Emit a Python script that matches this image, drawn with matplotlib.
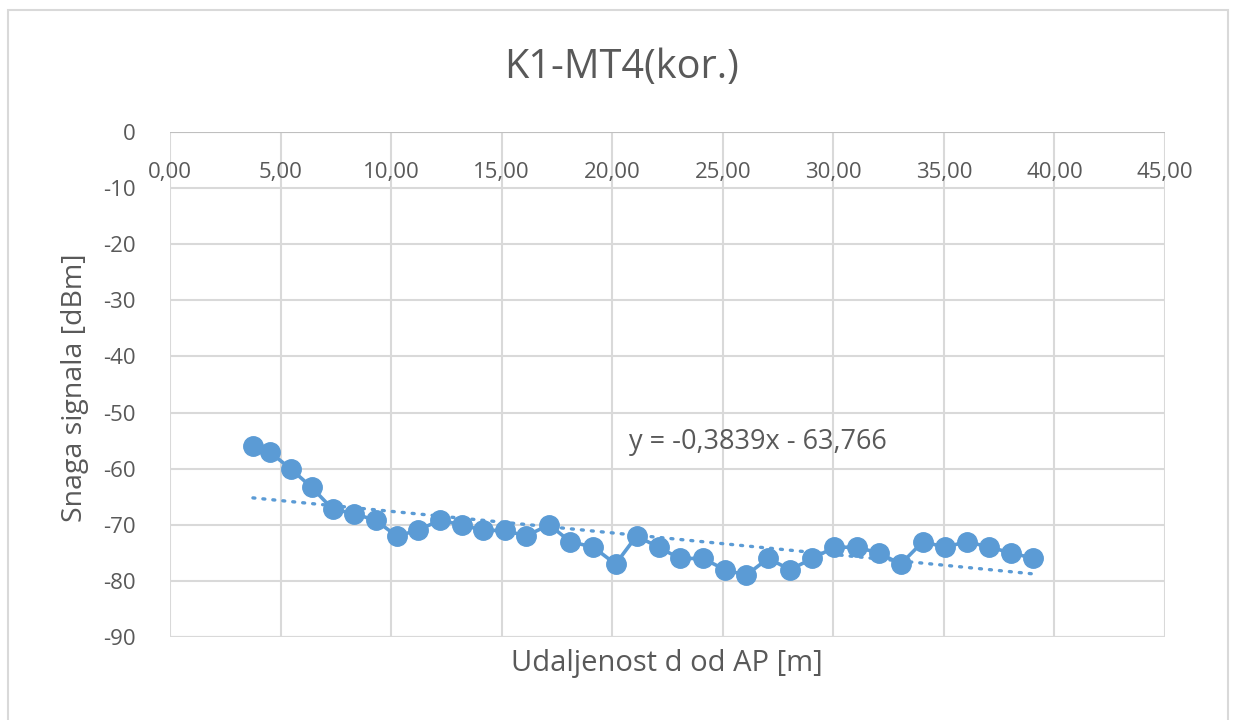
import matplotlib.pyplot as plt
from matplotlib.patches import Rectangle
import numpy as np

# data
dist = [3.75, 4.5, 5.45, 6.4, 7.35, 8.3, 9.3, 10.25, 11.2, 12.2, 13.2, 14.15,
        15.15, 16.1, 17.15, 18.1, 19.15, 20.15, 21.1, 22.1, 23.05, 24.1, 25.1,
        26.05, 27.05, 28.05, 29.05, 30.05, 31.05, 32.05, 33.05, 34.05, 35.05,
        36.05, 37.05, 38.05, 39.05]
signal = [-56, -57, -60, -63.3, -67.2, -68, -69.2, -72, -71, -69.2, -70, -71,
          -71, -72, -70, -73, -74, -77, -72, -74, -76, -76, -78, -79, -76, -78,
          -76, -74, -74, -75, -77, -73, -74, -73, -74, -75, -76]
slope = -0.3839
intercept = -63.766
xticks = [0, 5, 10, 15, 20, 25, 30, 35, 40, 45]
yticks = [0, -10, -20, -30, -40, -50, -60, -70, -80, -90]

blue = '#5B9BD5'
grey_txt = '#595959'
grid_c = '#D9D9D9'

plt.rcParams['font.family'] = ['Open Sans', 'DejaVu Sans']
plt.rcParams['axes.unicode_minus'] = False

W, H = 1235, 720
fig = plt.figure(figsize=(W/100, H/100), dpi=100)
ax = fig.add_axes([170/W, 1-637/H, 995/W, 505/H])

# outer chart frame
fig.patches.append(Rectangle((8/W, -0.01), 1220/W, 1-10/H+0.01,
                             transform=fig.transFigure, fill=False,
                             edgecolor='#D9D9D9', lw=1.5))

ax.plot(dist, signal, color=blue, lw=2.6, marker='o', ms=14, zorder=3)
xt = np.array([dist[0], dist[-1]])
ax.plot(xt, slope*xt + intercept, color=blue, lw=2.4,
        linestyle=(0, (0.6, 2.4)), dash_capstyle='round', zorder=2)

ax.set_xlim(0, 45)
ax.set_ylim(-90, 0)
ax.set_xticks(xticks)
ax.set_yticks(yticks)
ax.set_xticklabels([('%.2f' % v).replace('.', ',') for v in xticks])
ax.set_yticklabels([str(v) for v in yticks])
ax.grid(True, color=grid_c, lw=1.5)
ax.set_axisbelow(True)
for s in ax.spines.values():
    s.set_visible(False)
ax.axhline(0, color='#BFBFBF', lw=1.5, zorder=1)
ax.axhline(-90, color='#D9D9D9', lw=1.5, zorder=1)

ax.xaxis.tick_top()
ax.tick_params(axis='x', length=0, pad=-37, labelsize=16, colors=grey_txt)
ax.tick_params(axis='y', length=0, pad=25, labelsize=16, colors=grey_txt)

fig.text(622/W, 1-68/H, 'K1-MT4(kor.)', fontsize=28.5, color=grey_txt,
         ha='center', va='center')
fig.text(75/W, 1-388/H, 'Snaga signala [dBm]', fontsize=20.5, color=grey_txt,
         ha='center', va='center', rotation=90)
fig.text(667/W, 1-663/H, 'Udaljenost d od AP [m]', fontsize=21, color=grey_txt,
         ha='center', va='center')
ax.text(20.75, -55.2, 'y = -0,3839x - 63,766', fontsize=19.5, color=grey_txt,
        va='center', ha='left')

fig.savefig('out.png', dpi=100)
